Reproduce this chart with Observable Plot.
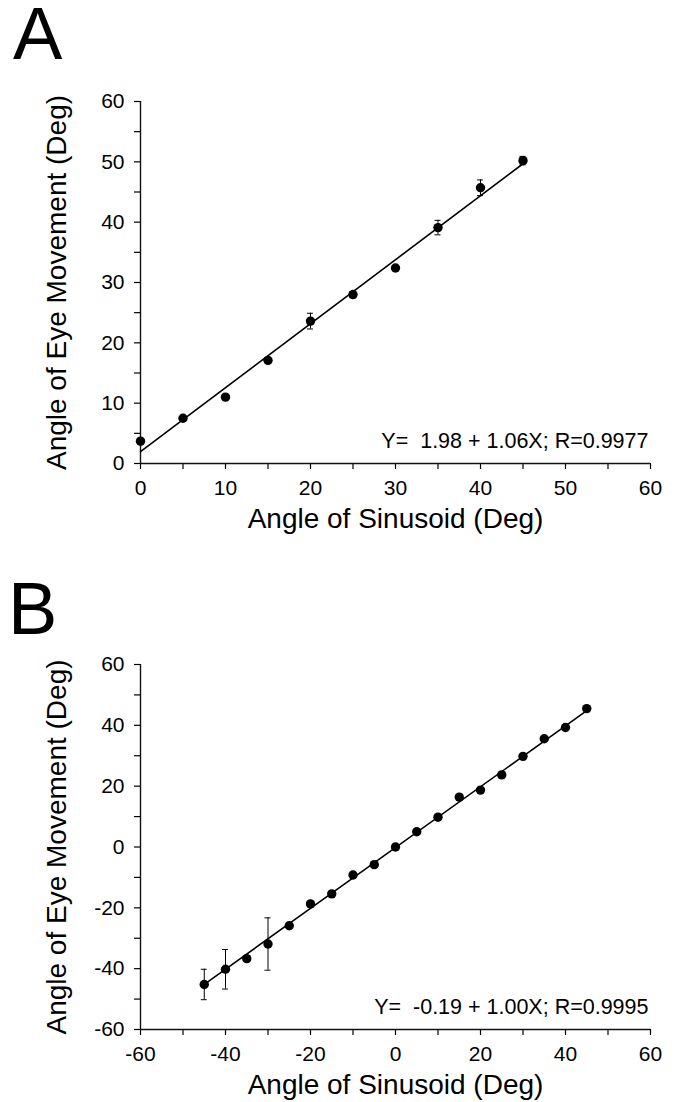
<!DOCTYPE html>
<html><head><meta charset="utf-8">
<script src="https://cdn.jsdelivr.net/npm/d3@7"></script>
<script src="https://cdn.jsdelivr.net/npm/@observablehq/plot@0.6"></script>
<style>
body{margin:0;background:#fff;font-family:"Liberation Sans",Arial,sans-serif;}
#wrap{position:relative;width:678px;height:1102px;overflow:hidden;}
.panel{position:absolute;left:0;}
.panel svg{display:block;background:transparent;}
.letter{position:absolute;font-size:74px;line-height:68px;height:68px;color:#000;font-family:"Liberation Sans",Arial,sans-serif;}
</style></head><body>
<div id="wrap">
 <div id="pa" class="panel" style="top:0px"></div>
 <div id="pb" class="panel" style="top:545px"></div>
 <div class="letter" style="left:13px;top:0px">A</div>
 <div class="letter" style="left:8px;top:575px">B</div>
</div>
<script>
const xTitle = "Angle of Sinusoid (Deg)";
const yTitle = "Angle of Eye Movement (Deg)";

// Panel A
const aAngle = [0, 5, 10, 15, 20, 25, 30, 35, 40, 45];
const aEye   = [3.7, 7.5, 11.0, 17.1, 23.6, 28.0, 32.4, 39.1, 45.7, 50.2];
const aErr   = [0, 0, 0, 0, 1.3, 0.5, 0, 1.2, 1.3, 0.7];
const aIntercept = 1.98, aSlope = 1.06;
const aEquation = "Y=  1.98 + 1.06X; R=0.9977";
const aDomain = [0, 60];
const aTicks = [0, 5, 10, 15, 20, 25, 30, 35, 40, 45, 50, 55, 60];
const aTickLabels = [0, 10, 20, 30, 40, 50, 60];

// Panel B
const bAngle = [-45, -40, -35, -30, -25, -20, -15, -10, -5, 0, 5, 10, 15, 20, 25, 30, 35, 40, 45];
const bEye   = [-45.2, -40.2, -36.7, -31.9, -25.9, -18.7, -15.4, -9.2, -5.8, 0.0, 5.0, 9.8, 16.4, 18.7, 23.7, 29.8, 35.6, 39.3, 45.5];
const bErr   = [5.0, 6.5, 0, 8.6, 0, 0, 0, 0, 0, 0, 0, 0, 0, 0, 0, 0, 0, 0, 0.6];
const bIntercept = -0.19, bSlope = 1.00;
const bEquation = "Y=  -0.19 + 1.00X; R=0.9995";
const bDomain = [-60, 60];
const bTicks = [-60, -50, -40, -30, -20, -10, 0, 10, 20, 30, 40, 50, 60];
const bTickLabels = [-60, -40, -20, 0, 20, 40, 60];

function panel({angle, eye, err, intercept, slope, equation, domain, ticks, tickLabels, capHalf, height, marginTop, marginBottom}) {
  const data = angle.map((x, i) => ({x, y: eye[i], e: err[i]}));
  const withErr = data.filter(d => d.e > 0);
  const x0 = d3.min(angle), x1 = d3.max(angle);
  const fit = [{x: x0, y: intercept + slope * x0}, {x: x1, y: intercept + slope * x1}];
  const labelSet = new Set(tickLabels);
  const fmt = d => labelSet.has(d) ? String(d) : "";
  const font = "'Liberation Sans', Arial, sans-serif";
  return Plot.plot({
    width: 678, height, marginLeft: 140, marginRight: 28, marginTop, marginBottom,
    style: {fontFamily: font, fontSize: "21px", color: "#000", background: "transparent"},
    x: {domain}, y: {domain},
    marks: [
      Plot.axisX({ticks, tickSize: 6, tickPadding: 11, tickFormat: fmt, label: null, strokeWidth: 1.2, fontSize: 21, fill: "#000"}),
      Plot.axisY({ticks, tickSize: 6, tickPadding: 10, tickFormat: fmt, label: null, strokeWidth: 1.2, fontSize: 21, fill: "#000"}),
      Plot.ruleY([domain[0]], {stroke: "#111", strokeWidth: 1.6}),
      Plot.ruleX([domain[0]], {stroke: "#111", strokeWidth: 1.4}),
      Plot.line(fit, {x: "x", y: "y", stroke: "#000", strokeWidth: 1.6}),
      Plot.ruleX(withErr, {x: "x", y1: d => d.y - d.e, y2: d => d.y + d.e, stroke: "#000", strokeWidth: 1}),
      Plot.ruleY(withErr, {y: d => d.y - d.e, x1: d => d.x - capHalf, x2: d => d.x + capHalf, stroke: "#000", strokeWidth: 1}),
      Plot.ruleY(withErr, {y: d => d.y + d.e, x1: d => d.x - capHalf, x2: d => d.x + capHalf, stroke: "#000", strokeWidth: 1}),
      Plot.dot(data, {x: "x", y: "y", r: 4.7, fill: "#000", stroke: "none"}),
      Plot.text([equation], {text: d => d, frameAnchor: "bottom-right", textAnchor: "end", dx: -2, dy: -16, fontSize: 21.5, fill: "#000"}),
      Plot.text([xTitle], {text: d => d, frameAnchor: "bottom", textAnchor: "middle", dy: 64, fontSize: 28, fill: "#000"}),
      Plot.text([yTitle], {text: d => d, frameAnchor: "left", textAnchor: "middle", rotate: -90, dx: -83, fontSize: 28, fill: "#000"})
    ]
  });
}

document.getElementById("pa").append(panel({
  angle: aAngle, eye: aEye, err: aErr, intercept: aIntercept, slope: aSlope, equation: aEquation,
  domain: aDomain, ticks: aTicks, tickLabels: aTickLabels, capHalf: 0.35,
  height: 545, marginTop: 101, marginBottom: 82
}));
document.getElementById("pb").append(panel({
  angle: bAngle, eye: bEye, err: bErr, intercept: bIntercept, slope: bSlope, equation: bEquation,
  domain: bDomain, ticks: bTicks, tickLabels: bTickLabels, capHalf: 0.7,
  height: 557, marginTop: 119, marginBottom: 73
}));
</script>
</body></html>
